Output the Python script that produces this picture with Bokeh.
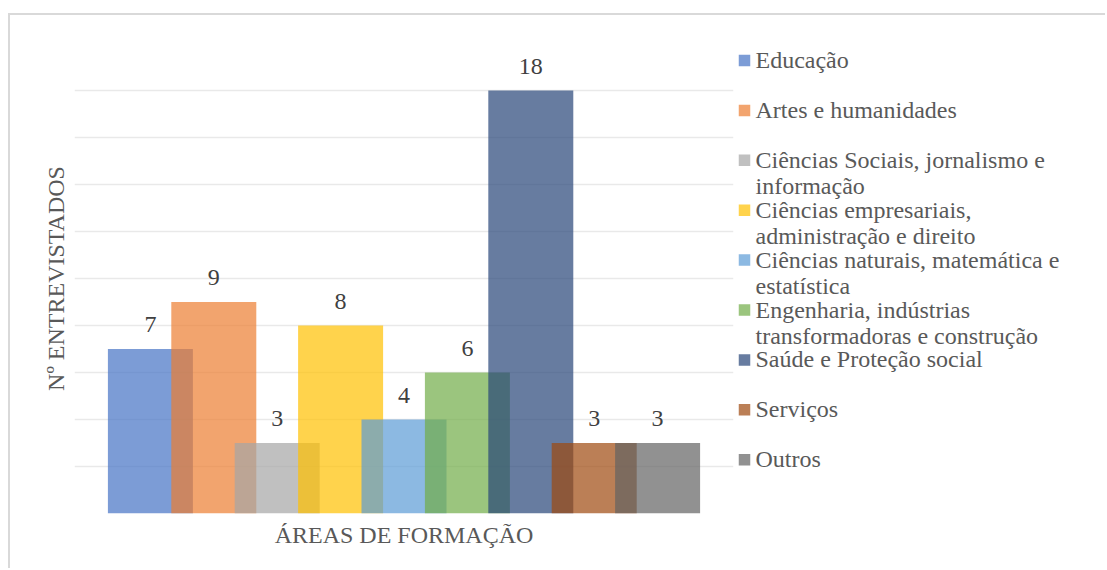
from bokeh.plotting import figure
from bokeh.models import ColumnDataSource, FactorRange, Range1d, FixedTicker, LabelSet, Label
from bokeh.transform import dodge
from bokeh.layouts import row
from bokeh.core.properties import value
from bokeh.embed import file_html
from bokeh.resources import INLINE

category = "ÁREAS DE FORMAÇÃO"
series_names = [
    "Educação",
    "Artes e humanidades",
    "Ciências Sociais, jornalismo e informação",
    "Ciências empresariais, administração e direito",
    "Ciências naturais, matemática e estatística",
    "Engenharia, indústrias transformadoras e construção",
    "Saúde e Proteção social",
    "Serviços",
    "Outros",
]
legend_lines = [
    ["Educação"],
    ["Artes e humanidades"],
    ["Ciências Sociais, jornalismo e", "informação"],
    ["Ciências empresariais,", "administração e direito"],
    ["Ciências naturais, matemática e", "estatística"],
    ["Engenharia, indústrias", "transformadoras e construção"],
    ["Saúde e Proteção social"],
    ["Serviços"],
    ["Outros"],
]
values = [7, 9, 3, 8, 4, 6, 18, 3, 3]
colors = ["#4472C4", "#ED7D31", "#A5A5A5", "#FFC000", "#5B9BD5",
          "#70AD47", "#264478", "#9E480E", "#636363"]
y_ticks = list(range(0, 21, 2))

FONT = "Liberation Serif"
FS = "24px"
TXT = "#595959"

frame_w, frame_h = 659, 470
frame_top = 28
step = 63.4 / frame_w
bar_w = 85.0 / frame_w
fig_h = 553

p = figure(
    title=None,
    x_range=FactorRange(factors=[category]),
    y_range=Range1d(0, 20),
    frame_width=frame_w, frame_height=frame_h,
    min_border_left=64, min_border_right=4, min_border_top=frame_top,
    min_border_bottom=fig_h - frame_top - frame_h,
    output_backend="svg", toolbar_location=None,
    background_fill_color="white", border_fill_color="white",
)
p.outline_line_color = None
p.xgrid.grid_line_color = None
p.ygrid.ticker = FixedTicker(ticks=y_ticks)
p.ygrid.grid_line_color = "#e9e9e9"
p.ygrid.grid_line_width = 1.5
p.yaxis.ticker = FixedTicker(ticks=y_ticks)

p.yaxis.axis_line_color = None
p.yaxis.major_tick_line_color = None
p.yaxis.minor_tick_line_color = None
p.yaxis.major_label_text_font_size = "0px"
p.yaxis.major_label_standoff = 0
p.yaxis.axis_label = "Nº ENTREVISTADOS"
p.yaxis.axis_label_text_font = FONT
p.yaxis.axis_label_text_font_size = FS
p.yaxis.axis_label_text_font_style = "normal"
p.yaxis.axis_label_text_color = TXT
p.yaxis.axis_label_standoff = 0

p.xaxis.axis_line_color = None
p.xaxis.major_tick_line_color = None
p.xaxis.minor_tick_line_color = None
p.xaxis.major_tick_out = 0
p.xaxis.major_label_standoff = 8
p.xaxis.major_label_text_font = FONT
p.xaxis.major_label_text_font_size = FS
p.xaxis.major_label_text_color = TXT

n = len(values)
for i, (name, v, c) in enumerate(zip(series_names, values, colors)):
    off = (i - (n - 1) / 2) * step
    src = ColumnDataSource(dict(x=[category], top=[v], label=[str(v)]))
    p.vbar(x=dodge("x", off, range=p.x_range), top="top", width=bar_w, source=src,
           fill_color=c, fill_alpha=0.7, line_color=None)
    p.add_layout(LabelSet(x=dodge("x", off, range=p.x_range), y="top", text="label",
                          source=src, text_font=value(FONT), text_font_size=value(FS),
                          text_color=value("#404040"), text_align="center",
                          text_baseline="bottom", y_offset=17))

# legend panel (its frame is aligned with the main frame by the row layout)
leg_w = 368
leg = figure(
    title=None,
    x_range=Range1d(0, leg_w), y_range=Range1d(frame_top + frame_h, frame_top),
    width=leg_w, height=fig_h, min_border=0,
    output_backend="svg", toolbar_location=None,
    background_fill_color="white", border_fill_color="white",
)
leg.axis.visible = False
leg.grid.visible = False
leg.outline_line_color = None

item_gap = 49.9
first_center = 45.0
sq_y = [first_center + item_gap * i for i in range(n)]
leg.scatter(x=[7.0] * n, y=sq_y, marker="square", size=11.5, fill_color=colors,
            fill_alpha=0.7, line_color=None)

for i, lines in enumerate(legend_lines):
    for j, t in enumerate(lines):
        leg.add_layout(Label(x=18.0, y=sq_y[i] - 0.5 + 26.5 * j, text=t,
                             text_font=FONT, text_font_size=FS, text_color=TXT,
                             text_align="left", text_baseline="middle"))

layout = row(p, leg, styles={
    "border-top": "2px solid #d9d9d9",
    "border-left": "2px solid #d9d9d9",
    "margin-top": "13px",
    "margin-left": "8px",
})

open("out.html", "w").write(file_html(layout, INLINE))
